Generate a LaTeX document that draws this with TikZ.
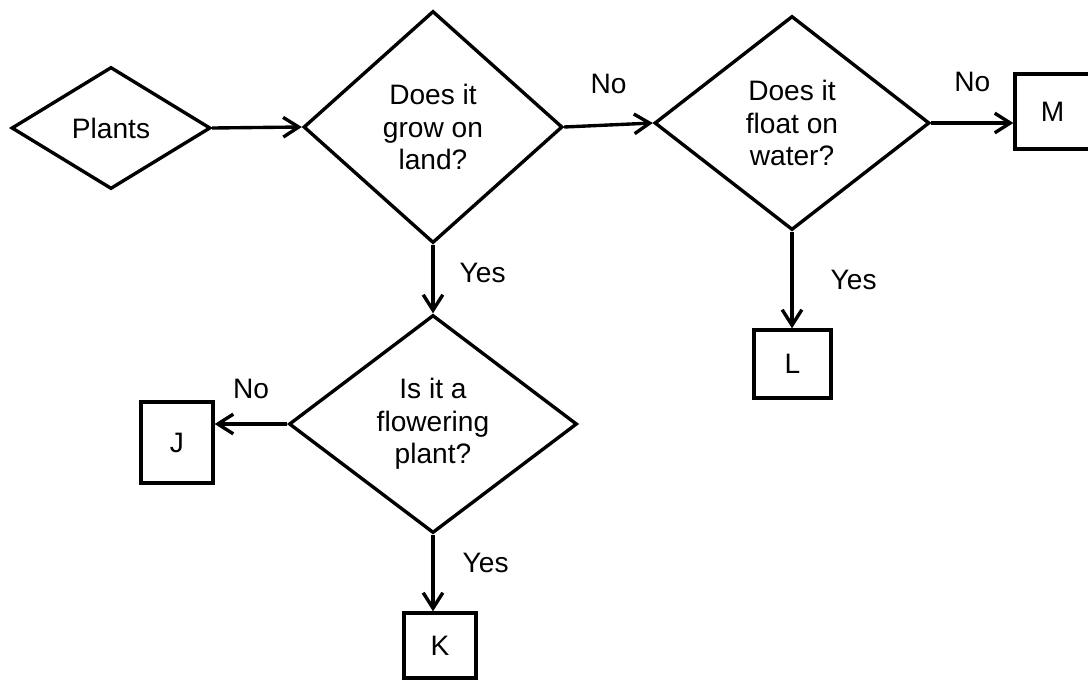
\documentclass[tikz,border=0pt]{standalone}
\usepackage{fontspec}
\setmainfont{Liberation Sans}
\usetikzlibrary{arrows.meta}
\usetikzlibrary{shapes.geometric}

\begin{document}
\begin{tikzpicture}[
    line width=2.4pt,
    >={Straight Barb[length=11pt,width=14pt]},
    every node/.style={font=\fontsize{20}{23}\selectfont, inner sep=0pt},
    question/.style={diamond, draw, align=center},
    leaf/.style={rectangle, draw}
]
    \useasboundingbox (0,0) rectangle (27.2,-17.025);

    % Draw the decision diamonds
    \node[question, minimum width=4.975cm, minimum height=3.05cm] (plants) at (2.775,-3.2) {Plants};
    \node[question, minimum width=6.475cm, minimum height=5.8cm] (grow) at (10.825,-3.175) {Does it\\grow on\\land?};
    \node[question, minimum width=6.875cm, minimum height=5.35cm] (float) at (19.8,-3.075) {Does it\\float on\\water?};
    \node[question, minimum width=7.2cm, minimum height=5.45cm] (flower) at (10.825,-10.6) {Is it a\\flowering\\plant?};

    % Draw the end boxes
    \node[leaf, minimum width=1.8cm, minimum height=2.025cm] (j) at (4.425,-11.0625) {J};
    \node[leaf, minimum width=1.8cm, minimum height=1.625cm] (k) at (11.0,-16.1375) {K};
    \node[leaf, minimum width=1.925cm, minimum height=1.7cm] (l) at (19.8125,-9.1) {L};
    \node[leaf, minimum width=1.875cm, minimum height=1.875cm] (m) at (26.3125,-2.7875) {M};

    % Draw the arrows
    \draw[->] (plants.east) -- (grow.west);
    \draw[->] (grow.east) -- node[midway, above=0.75cm] (no1) {No} (float.west);
    \draw[->] (float.east) -- node[midway, above=0.75cm] (no2) {No} (float.east -| m.west);
    \draw[->] (grow.south) -- node[midway, right=0.625cm, yshift=0.15cm] (yes1) {Yes} (flower.north);
    \draw[->] (float.south) -- node[midway, right=0.925cm] (yes2) {Yes} (float.south |- l.north);
    \draw[->] (flower.west) -- node[midway, above=0.6cm] (no3) {No} (flower.west -| j.east);
    \draw[->] (flower.south) -- node[midway, right=0.7cm, yshift=0.25cm] (yes3) {Yes} (flower.south |- k.north);
\end{tikzpicture}
\end{document}
